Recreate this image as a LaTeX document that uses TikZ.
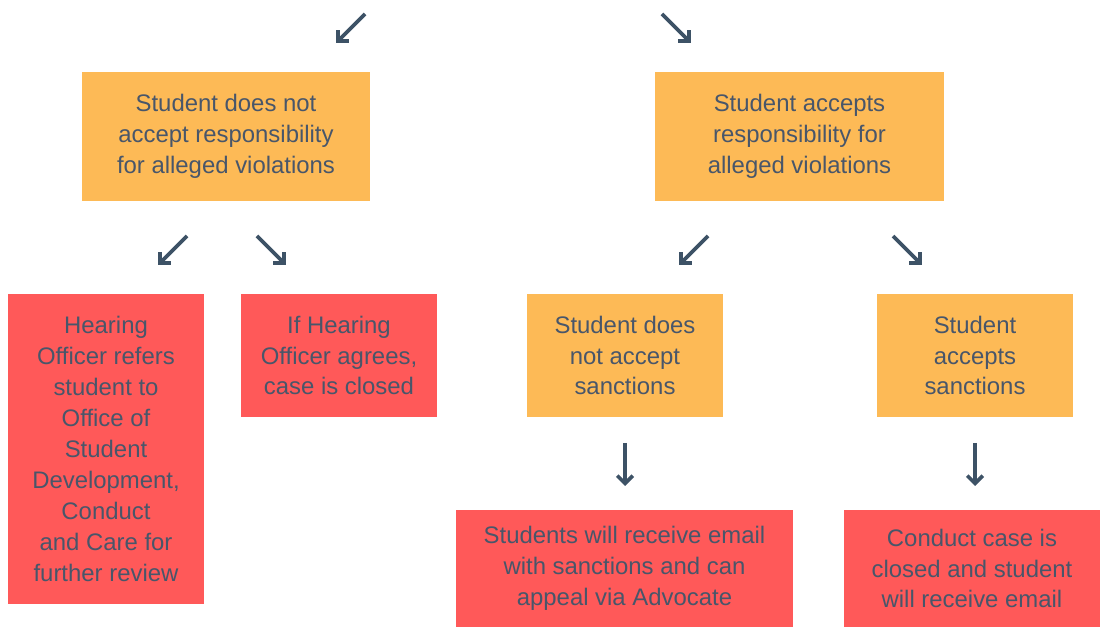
\documentclass[tikz,border=0pt]{standalone}
\usepackage{fontspec}
\setmainfont{Liberation Sans}
\usetikzlibrary{arrows.meta,positioning}
\definecolor{scorange}{RGB}{253,186,86}
\definecolor{scred}{RGB}{255,89,89}
\definecolor{sctext}{RGB}{72,86,106}
\definecolor{scarrow}{RGB}{61,82,102}
\tikzstyle{choice} = [rectangle, minimum width=7.2cm, minimum height=3.225cm, text centered, align=center, fill=scorange, text=sctext, font=\fontsize{17}{22}\selectfont]
\tikzstyle{outcome} = [rectangle, minimum width=4.9cm, minimum height=3.075cm, text centered, align=center, fill=scred, text=sctext, font=\fontsize{17}{22}\selectfont]
\tikzstyle{arrow} = [line width=2.6pt, -{Straight Barb[length=5.5pt,width=11pt]}, color=scarrow]

\begin{document}
\begin{tikzpicture}[x=0.025cm, y=-0.025cm]
\useasboundingbox (0,0) rectangle (1100,628);

% Responsibility
\node[choice] (notacc) at (226,136.5) {Student does not\\accept responsibility\\for alleged violations};
\node[choice] (acc) at (799.5,136.5) {Student accepts\\responsibility for\\alleged violations};

% Not accepted branch
\node[outcome, minimum height=7.75cm] (refer) at (106,449) {Hearing\\Officer refers\\student to\\Office of\\Student\\Development,\\Conduct\\and Care for\\further review};
\node[outcome] (closed) at (339,355.5) {If Hearing\\Officer agrees,\\case is closed};

% Accepted branch
\node[outcome, fill=scorange] (nosanc) at (625,355.5) {Student does\\not accept\\sanctions};
\node[outcome, fill=scorange] (sanc) at (975,355.5) {Student\\accepts\\sanctions};

% Results
\node[outcome, minimum width=8.425cm, minimum height=2.925cm] (appeal) at (624.5,568.5) {Students will receive email\\with sanctions and can\\appeal via Advocate};
\node[outcome, minimum width=6.4cm, minimum height=2.925cm] (email) at (972,568.5) {Conduct case is\\closed and student\\will receive email};

% Arrows
\coordinate (t1s) at (365,14); \coordinate (t1e) at (336,43);
\coordinate (t2s) at (662,14); \coordinate (t2e) at (691,43);
\coordinate (a1s) at (187,236); \coordinate (a1e) at (158,265);
\coordinate (a2s) at (257,236); \coordinate (a2e) at (286,265);
\coordinate (b1s) at (708,236); \coordinate (b1e) at (679,265);
\coordinate (b2s) at (893,236); \coordinate (b2e) at (922,265);
\coordinate (e1s) at (625,443); \coordinate (e1e) at (625,486);
\coordinate (f1s) at (975,443); \coordinate (f1e) at (975,486);
\foreach \s/\e in {t1s/t1e, t2s/t2e, a1s/a1e, a2s/a2e, b1s/b1e, b2s/b2e, e1s/e1e, f1s/f1e}
  \draw[arrow] (\s) -- (\e);
\end{tikzpicture}
\end{document}
